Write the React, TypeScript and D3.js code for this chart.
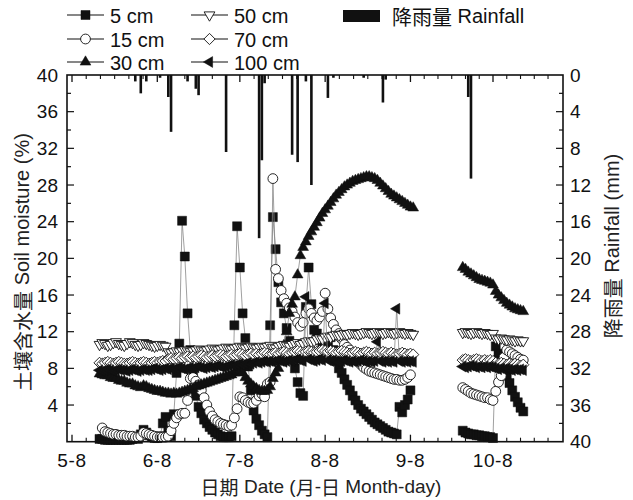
import React from 'react';
import * as d3 from 'd3';

const W = 633;
const H = 500;

// segment start dates (daily readings)
const startA = '2000-05-18';
const startB = '2000-09-27';

// soil moisture (%), segment A: 5-18 .. 9-9, segment B: 9-27 .. 10-19
const cm5A = [
  0.3, 0.3, 0.2, 0.2, 0.2, 0.2, 0.2, 0.2, 0.2, 0.2,
  0.2, 0.2, 0.3, 0.4, 0.3, 0.8, 1.3, 1.0, 0.7, 0.5,
  0.4, 0.4, 0.6, 2.0, 2.7, 1.2, 0.6, 3.0, 7.5, 10.7,
  24.1, 20.2, 14.0, 10.0, 7.2, 5.0, 3.8, 3.1, 2.4, 2.0,
  1.6, 1.3, 1.0, 0.8, 0.6, 0.5, 0.5, 0.5, 0.6, 12.7,
  23.5, 19.0, 14.0, 11.3, 8.2, 5.6, 3.4, 2.5, 1.8, 1.2,
  0.8, 0.5, 12.7, 24.5, 21.0, 17.4, 15.2, 14.0, 12.4, 11.0,
  10.0, 8.0, 6.5, 5.3, 5.0, 14.7, 19.0, 15.0, 12.2, 11.8,
  11.2, 10.8, 10.2, 10.6, 11.4, 10.0, 8.8, 8.0, 7.5, 6.8,
  6.2, 5.6, 5.0, 4.5, 4.0, 3.6, 3.3, 3.0, 2.7, 2.4,
  2.1, 1.9, 1.7, 1.5, 1.3, 1.1, 1.0, 0.9, 0.8, 3.8,
  3.2, 4.0, 4.6, 5.6, null,
];
const cm5B = [
  1.2, 1.0, 0.9, 0.8, 0.8, 0.7, 0.7, 0.6, 0.6, 0.5, 0.5, 0.4,
  10.4, 9.6, 8.8, 8.0, 7.2, 6.4, 5.6, 4.9, 4.3, 3.7, 3.3,
];

const cm15A = [
  null, 1.5, 1.1, 1.0, 0.9, 0.8, 0.8, 0.7, 0.7, 0.7,
  0.6, 0.6, 0.6, 0.5, 0.5, 0.6, 1.0, 0.9, 0.8, 0.7,
  0.6, 0.5, 0.5, 0.5, 0.5, 0.6, 1.2, 2.0, 2.6, 3.0,
  3.1, 3.1, 4.5, 6.9, 7.0, 6.6, 6.2, 5.6, 4.8, 4.0,
  3.3, 2.8, 2.4, 2.2, 2.0, 1.9, 1.8, 1.7, 1.8, 2.6,
  3.6, 4.9, 4.8, 4.5, 4.3, 4.2, 4.2, 4.5, 5.0, 5.2,
  4.9, 6.3, 6.5, 28.7, 18.8, 17.8, 16.5, 15.6, 15.1, 14.6,
  14.2, 13.6, 13.0, 12.6, 13.0, 14.0, 14.5, 14.0, 13.5, 13.2,
  13.6, 14.2, 16.2, 14.5, 13.5, 12.8, 12.2, 11.8, 11.2, 10.6,
  10.3, 10.0, 9.6, 9.2, 8.8, 8.4, 8.1, 7.9, 7.7, 7.6,
  7.5, 7.4, 7.3, 7.2, 7.1, 7.0, 6.9, 6.8, 6.8, 6.7,
  6.7, 6.8, 7.0, 7.3, null,
];
const cm15B = [
  5.9, 5.7, 5.5, 5.3, 5.2, 5.1, 5.0, 4.9, 4.8, 4.8, 4.6, 4.5,
  5.5, 6.5, 7.2, 9.2, 10.0, 9.8, 9.6, 9.4, 9.2, 9.0, 8.9,
];

const cm30A = [
  7.4, 7.3, 7.2, 7.2, 7.0, 6.9, 6.9, 6.7, 6.6, 6.6,
  6.4, 6.3, 6.3, 6.1, 6.0, 5.9, 6.1, 6.0, 5.8, 5.7,
  5.6, 5.5, 5.5, 5.4, 5.3, 5.3, 5.2, 5.3, 5.2, 5.3,
  5.4, 5.5, 5.6, 5.7, 5.8, 6.0, 6.1, 6.2, 6.3, 6.4,
  6.5, 6.6, 6.7, 6.8, 6.9, 7.0, 7.1, 7.2, 7.3, 7.5,
  7.7, 7.8, 7.5, 7.0, 6.6, 6.3, 6.0, 5.8, 5.6, 5.5,
  5.5, 5.6, 6.0, 6.9, 7.5, 8.0, 9.0, 10.5, 12.0, 14.0,
  15.0, 15.8, 18.2, 20.3, 21.2, 21.8, 22.4, 22.9, 23.4, 23.9,
  24.4, 24.9, 25.3, 25.7, 26.1, 26.5, 26.9, 27.2, 27.5, 27.8,
  28.0, 28.2, 28.4, 28.5, 28.6, 28.7, 28.8, 28.9, 28.9, 28.8,
  28.7, 28.5, 28.2, 27.9, 27.6, 27.3, 27.0, 26.8, 26.6, 26.4,
  26.2, 26.0, 25.8, 25.6, 25.5,
];
const cm30B = [
  19.0, 18.8, 18.5, 18.3, 18.1, 17.9, 17.7, 17.6, 17.5, 17.4, 17.3, 17.1,
  16.4, 16.0, 15.7, 15.4, 15.1, 14.9, 14.7, 14.5, 14.4, 14.3, 14.2,
];

const cm50A = [
  10.6, 10.8, 10.7, 10.5, 10.6, 10.8, 10.9, 10.7, 10.6, 10.5,
  10.7, 10.9, 10.8, 10.6, 10.5, 10.6, 10.8, 10.7, 10.6, 10.5,
  10.4, 10.5, 10.6, 10.5, 10.4, 9.8, 9.7, 9.8, 9.9, 9.8,
  9.9, 10.0, 9.9, 9.8, 9.9, 10.0, 10.1, 10.0, 9.9, 10.0,
  10.1, 10.2, 10.1, 10.0, 10.1, 10.2, 10.3, 10.2, 10.1, 10.2,
  10.3, 10.4, 10.3, 10.2, 10.3, 10.4, 10.3, 10.2, 10.3, 10.4,
  10.3, 10.4, 10.5, 10.3, 10.2, 10.4, 10.5, 10.6, 10.5, 10.4,
  10.6, 10.7, 10.8, 10.6, 10.7, 10.9, 11.0, 10.9, 11.0, 11.2,
  11.3, 11.2, 11.4, 11.5, 11.4, 11.6, 11.7, 11.6, 11.7, 11.8,
  11.7, 11.8, 11.9, 11.8, 11.7, 11.8, 11.9, 12.0, 11.9, 11.8,
  11.9, 12.0, 11.9, 11.8, 11.9, 12.0, 11.9, 11.8, 11.9, 12.0,
  11.9, 11.8, 11.9, 11.8, 11.7,
];
const cm50B = [
  11.9, 12.0, 11.9, 11.8, 11.9, 12.0, 11.9, 11.8, 11.9, 11.8, 11.7, 11.8,
  11.3, 11.2, 11.3, 11.2, 11.1, 11.2, 11.1, 11.0, 11.1, 11.0, 11.0,
];

const cm70A = [
  8.6, 8.5, 8.6, 8.7, 8.6, 8.5, 8.6, 8.7, 8.6, 8.5,
  8.5, 8.6, 8.7, 8.6, 8.5, 8.6, 8.7, 8.6, 8.5, 8.6,
  8.7, 8.6, 8.7, 8.8, 8.8, 9.0, 9.1, 9.0, 9.1, 9.2,
  9.1, 9.2, 9.3, 9.2, 9.3, 9.2, 9.3, 9.4, 9.3, 9.2,
  9.3, 9.4, 9.3, 9.4, 9.5, 9.4, 9.3, 9.4, 9.5, 9.4,
  9.5, 9.6, 9.5, 9.4, 9.5, 9.6, 9.5, 9.6, 9.5, 9.6,
  9.7, 9.6, 9.5, 9.6, 9.7, 9.6, 9.7, 9.8, 9.7, 9.6,
  9.7, 9.8, 9.9, 9.8, 9.7, 9.8, 9.9, 9.8, 9.7, 9.8,
  9.9, 10.0, 9.9, 9.8, 9.9, 9.8, 9.7, 9.8, 9.9, 9.8,
  9.7, 9.6, 9.7, 9.8, 9.7, 9.6, 9.7, 9.8, 9.7, 9.6,
  9.7, 9.6, 9.7, 9.8, 9.7, 9.6, 9.7, 9.6, 9.5, 9.6,
  9.7, 9.6, 9.5, 9.6, 9.5,
];
const cm70B = [
  8.9, 9.0, 8.9, 8.8, 8.9, 9.0, 8.9, 8.8, 8.9, 8.8, 8.9, 8.8,
  8.6, 8.5, 8.6, 8.5, 8.4, 8.5, 8.4, 8.5, 8.4, 8.3, 8.4,
];

const cm100A = [
  7.8, 7.7, 7.8, 7.9, 7.8, 7.7, 7.8, 7.9, 7.8, 7.8,
  7.7, 7.8, 7.9, 7.8, 7.7, 7.8, 7.9, 7.8, 7.8, 7.9,
  8.0, 7.9, 7.8, 7.9, 8.0, 7.9, 8.0, 7.9, 8.0, 8.1,
  8.0, 7.9, 8.0, 8.1, 8.0, 8.1, 8.2, 8.1, 8.0, 8.1,
  8.2, 8.1, 8.2, 8.3, 8.2, 8.1, 8.2, 8.3, 8.4, 8.3,
  8.4, 8.5, 8.4, 8.5, 8.6, 8.5, 8.6, 8.7, 8.6, 8.7,
  8.8, 8.7, 8.8, 8.7, 8.8, 8.9, 8.8, 8.7, 8.8, 8.9,
  8.8, 8.9, 9.0, 8.9, 8.8, 15.8, 9.0, 8.9, 8.8, 8.9,
  9.0, 8.9, 15.1, 8.9, 8.8, 8.9, 8.8, 8.7, 8.8, 8.9,
  8.8, 8.7, 8.8, 8.7, 8.8, 8.9, 8.8, 8.7, 8.8, 8.7,
  8.8, 10.9, 8.8, 8.7, 8.8, 8.7, 8.8, 8.7, 14.5, 8.8,
  8.7, 8.8, 8.7, 8.8, 8.7,
];
const cm100B = [
  8.2, 8.1, 8.2, 8.3, 8.2, 8.1, 8.2, 8.1, 8.2, 8.1, 8.2, 8.1,
  8.0, 7.9, 8.0, 7.9, 8.0, 7.9, 7.8, 7.9, 7.8, 7.9, 7.8,
];

// rainfall (mm)
const rainDates = [
  '05-31', '06-02', '06-04', '06-09', '06-12', '06-13', '06-19', '06-22',
  '06-23', '07-03', '07-15', '07-16', '07-17', '07-27', '07-29', '08-01',
  '08-03', '08-09', '08-11', '08-22', '08-29', '08-30', '09-29', '09-30',
];
const rainMm = [
  0.7, 2.0, 0.7, 0.3, 2.4, 6.2, 0.7, 1.5,
  2.2, 8.4, 17.8, 9.3, 0.9, 8.7, 9.5, 0.7,
  12.0, 2.5, 0.3, 0.3, 3.0, 0.5, 2.4, 11.3,
];

const monthTicks = ['5-8', '6-8', '7-8', '8-8', '9-8', '10-8'];
const leftTicks = [4, 8, 12, 16, 20, 24, 28, 32, 36, 40];
const rightTicks = [0, 4, 8, 12, 16, 20, 24, 28, 32, 36, 40];

// no serif face resolves in the sandbox, so pin the sans face explicitly
const FONT = "'Liberation Sans', Arial, sans-serif";
const CJK = "'Noto Sans CJK SC', 'Noto Sans CJK JP', sans-serif";
const INK = '#111';
const latin = { fontFamily: FONT };

const parse = d3.timeParse('%Y-%m-%d');
const md = (s: string) => parse('2000-' + s) as Date;

const markerPath: Record<string, string> = {
  square: 'M-4.5,-4.5h9v9h-9Z',
  triUp: 'M0,-6.2L5.4,3.1L-5.4,3.1Z',
  triDown: 'M0,6.2L5.4,-3.1L-5.4,-3.1Z',
  triLeft: 'M-6.2,0L3.1,-5.4L3.1,5.4Z',
  diamond: 'M0,-5.6L5.6,0L0,5.6L-5.6,0Z',
};

function Marker({ kind, x, y }: { kind: string; x: number; y: number }) {
  const filled = kind === 'square' || kind === 'triUp' || kind === 'triLeft';
  if (kind === 'circle') {
    return <circle cx={x} cy={y} r={4.9} fill="#fff" stroke={INK} strokeWidth={0.9} />;
  }
  return (
    <path
      d={markerPath[kind]}
      transform={`translate(${x},${y})`}
      fill={filled ? INK : '#fff'}
      stroke={INK}
      strokeWidth={filled ? 0.5 : 0.9}
    />
  );
}

// text made of latin and chinese pieces
function Mixed({ parts }: { parts: [string, boolean][] }) {
  return (
    <>
      {parts.map(([t, zh], i) => (
        <tspan key={i} style={{ fontFamily: zh ? CJK : FONT }}>{t}</tspan>
      ))}
    </>
  );
}

export default function App() {
  const margin = { left: 67, right: 563, top: 75, bottom: 441.7 };

  const x = d3.scaleTime()
    .domain([new Date(2000, 4, 6, 4, 24), new Date(2000, 10, 2, 10, 34)])
    .range([margin.left, margin.right]);
  const y = d3.scaleLinear().domain([0, 40]).range([margin.bottom, margin.top]);
  const yR = d3.scaleLinear().domain([0, 40]).range([margin.top, margin.bottom]);

  const majors = monthTicks.map(t => md(t.split('-').map(v => v.padStart(2, '0')).join('-')));
  const minors: Date[] = [];
  for (let i = 0; i < majors.length - 1; i++) {
    const a = majors[i].getTime();
    const b = majors[i + 1].getTime();
    for (let k = 1; k < 6; k++) minors.push(new Date(a + ((b - a) * k) / 6));
  }
  {
    const last = majors[majors.length - 1].getTime();
    const step = (last - majors[majors.length - 2].getTime()) / 6;
    for (let t = last + step; x(new Date(t)) < margin.right - 3; t += step) minors.push(new Date(t));
  }

  const series = [
    { kind: 'square', a: cm5A, b: cm5B },
    { kind: 'circle', a: cm15A, b: cm15B },
    { kind: 'triUp', a: cm30A, b: cm30B },
    { kind: 'triDown', a: cm50A, b: cm50B },
    { kind: 'diamond', a: cm70A, b: cm70B },
    { kind: 'triLeft', a: cm100A, b: cm100B },
  ];

  const toPoints = (vals: (number | null)[], start: string) => {
    const s0 = parse(start) as Date;
    return vals.map((v, i) => ({ date: d3.timeDay.offset(s0, i), v }));
  };

  const line = d3.line<{ date: Date; v: number | null }>()
    .defined(d => d.v != null)
    .x(d => x(d.date))
    .y(d => y(d.v as number));

  const legendRows = [
    { kind: 'square', label: '5 cm', col: 0, row: 0 },
    { kind: 'circle', label: '15 cm', col: 0, row: 1 },
    { kind: 'triUp', label: '30 cm', col: 0, row: 2 },
    { kind: 'triDown', label: '50 cm', col: 1, row: 0 },
    { kind: 'diamond', label: '70 cm', col: 1, row: 1 },
    { kind: 'triLeft', label: '100 cm', col: 1, row: 2 },
  ];
  const legendY = [15, 39, 62];
  const legendX = [67, 191];

  return (
    <svg width={W} height={H} style={{ position: 'absolute', left: 0, top: 0, fontFamily: FONT }}>
      <rect width={W} height={H} fill="#fff" />

      {/* rainfall bars hanging from the top */}
      {rainDates.map((d, i) => {
        const cx = x(md(d));
        return (
          <rect key={'r' + i} x={cx - 1.3} y={margin.top} width={2.6}
            height={yR(rainMm[i]) - margin.top} fill={INK} />
        );
      })}

      {/* soil moisture series */}
      {series.map((s, si) => {
        const pa = toPoints(s.a, startA);
        const pb = toPoints(s.b, startB);
        return (
          <g key={'s' + si}>
            <path d={line(pa) || ''} fill="none" stroke="#888" strokeWidth={0.8} />
            <path d={line(pb) || ''} fill="none" stroke="#888" strokeWidth={0.8} />
            {[...pa, ...pb].filter(p => p.v != null).map((p, i) => (
              <Marker key={i} kind={s.kind} x={x(p.date)} y={y(p.v as number)} />
            ))}
          </g>
        );
      })}

      {/* frame */}
      <rect x={margin.left} y={margin.top} width={margin.right - margin.left}
        height={margin.bottom - margin.top} fill="none" stroke={INK} strokeWidth={1.6} />

      {/* x ticks bottom and top */}
      {majors.map((d, i) => (
        <g key={'mx' + i}>
          <line x1={x(d)} x2={x(d)} y1={margin.bottom} y2={margin.bottom - 7} stroke={INK} strokeWidth={1.3} />
          <line x1={x(d)} x2={x(d)} y1={margin.top} y2={margin.top + 7} stroke={INK} strokeWidth={1.3} />
          <text x={x(d)} y={margin.bottom + 19} textAnchor="middle" dominantBaseline="central"
            fontSize={19} letterSpacing={0.6} fill={INK} style={latin}>{monthTicks[i]}</text>
        </g>
      ))}
      {minors.map((d, i) => (
        <g key={'nx' + i}>
          <line x1={x(d)} x2={x(d)} y1={margin.bottom} y2={margin.bottom - 4} stroke={INK} strokeWidth={1.1} />
          <line x1={x(d)} x2={x(d)} y1={margin.top} y2={margin.top + 4} stroke={INK} strokeWidth={1.1} />
        </g>
      ))}

      {/* left axis */}
      {d3.range(2, 40, 2).map(v => (
        <line key={'ly' + v} x1={margin.left} x2={margin.left + (v % 4 === 0 ? 7 : 4)}
          y1={y(v)} y2={y(v)} stroke={INK} strokeWidth={1.2} />
      ))}
      {leftTicks.map(v => (
        <text key={'lt' + v} x={margin.left - 9} y={y(v)} textAnchor="end" dominantBaseline="central"
          fontSize={19} fill={INK} style={latin}>{v}</text>
      ))}

      {/* right axis */}
      {d3.range(2, 40, 2).map(v => (
        <line key={'ry' + v} x1={margin.right} x2={margin.right - (v % 4 === 0 ? 7 : 4)}
          y1={yR(v)} y2={yR(v)} stroke={INK} strokeWidth={1.2} />
      ))}
      {rightTicks.map(v => (
        <text key={'rt' + v} x={margin.right + 7} y={yR(v)} textAnchor="start" dominantBaseline="central"
          fontSize={19} fill={INK} style={latin}>{v}</text>
      ))}

      {/* axis titles */}
      <text x={321} y={486} textAnchor="middle" dominantBaseline="central" fontSize={19} fill="#222">
        <Mixed parts={[['日期', true], [' Date (', false], ['月', true], ['-', false], ['日', true], [' Month-day)', false]]} />
      </text>
      <text transform="translate(22,262) rotate(-90)" textAnchor="middle" dominantBaseline="central"
        fontSize={20} fill="#222">
        <Mixed parts={[['土壤含水量', true], [' Soil moisture (%)', false]]} />
      </text>
      <text transform="translate(612,246) rotate(-90)" textAnchor="middle" dominantBaseline="central"
        fontSize={20} fill="#222">
        <Mixed parts={[['降雨量', true], [' Rainfall (mm)', false]]} />
      </text>

      {/* legend */}
      {legendRows.map((r, i) => {
        const lx = legendX[r.col];
        const ly = legendY[r.row];
        return (
          <g key={'lg' + i}>
            <line x1={lx} x2={lx + 37} y1={ly} y2={ly} stroke={INK} strokeWidth={1.1} />
            <Marker kind={r.kind} x={lx + 18.5} y={ly} />
            <text x={lx + 43} y={ly + 1} dominantBaseline="central" fontSize={20} fill={INK} style={latin}>{r.label}</text>
          </g>
        );
      })}
      <rect x={343} y={10} width={37} height={12} fill={INK} />
      <text x={392} y={16} dominantBaseline="central" fontSize={20} fill={INK}>
        <Mixed parts={[['降雨量', true], [' Rainfall', false]]} />
      </text>
    </svg>
  );
}
